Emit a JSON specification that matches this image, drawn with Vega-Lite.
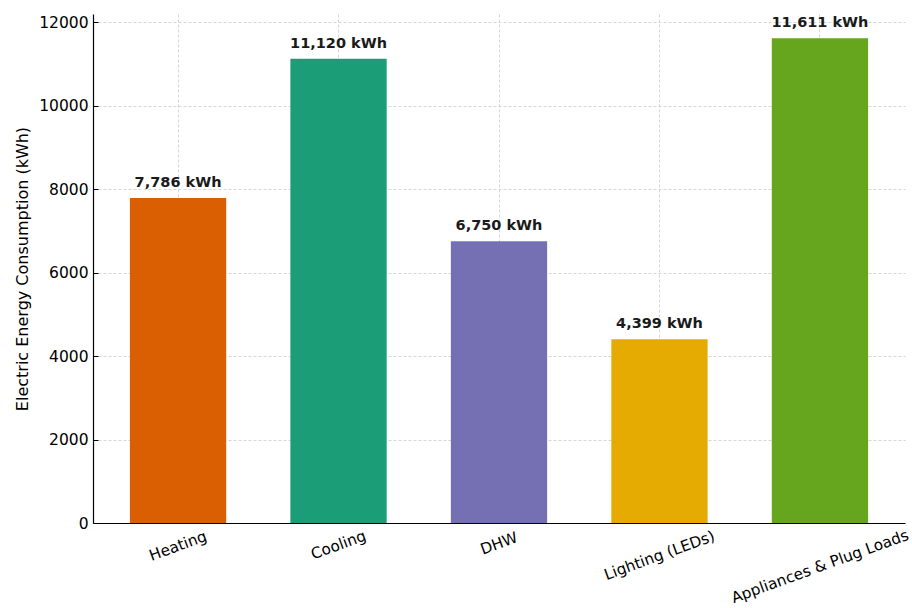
{
  "$schema": "https://vega.github.io/schema/vega-lite/v6.json",
  "width": 812,
  "height": 509,
  "autosize": {"type": "none"},
  "padding": {"left": 93, "top": 14, "right": 7, "bottom": 85},
  "background": "white",
  "config": {
    "font": "DejaVu Sans",
    "view": {"stroke": null},
    "axis": {
      "domainColor": "#000000",
      "domainWidth": 1.2,
      "tickColor": "#000000",
      "tickWidth": 1,
      "labelColor": "#000000",
      "titleColor": "#000000",
      "gridColor": "#cccccc",
      "gridDash": [3, 2],
      "gridWidth": 0.8,
      "zindex": 1
    }
  },
  "data": {
    "values": [
      {"category": "Heating", "kwh": 7786, "label": "7,786 kWh"},
      {"category": "Cooling", "kwh": 11120, "label": "11,120 kWh"},
      {"category": "DHW", "kwh": 6750, "label": "6,750 kWh"},
      {"category": "Lighting (LEDs)", "kwh": 4399, "label": "4,399 kWh"},
      {"category": "Appliances & Plug Loads", "kwh": 11611, "label": "11,611 kWh"}
    ]
  },
  "encoding": {
    "x": {
      "field": "category",
      "type": "nominal",
      "sort": null,
      "scale": {"paddingInner": 0.4, "paddingOuter": 0.23},
      "axis": {
        "title": null,
        "grid": true,
        "bandPosition": 0.5,
        "labelAngle": -20,
        "labelAlign": "center",
        "labelBaseline": "middle",
        "labelFontSize": 15.3,
        "labelPadding": {
          "condition": [
            {"test": "datum.value === 'Heating'", "value": 27.5},
            {"test": "datum.value === 'Cooling'", "value": 26.5},
            {"test": "datum.value === 'DHW'", "value": 25},
            {"test": "datum.value === 'Lighting (LEDs)'", "value": 37}
          ],
          "value": 48
        },
        "tickSize": -5,
        "labelLimit": 400
      }
    },
    "y": {
      "field": "kwh",
      "type": "quantitative",
      "scale": {"domain": [0, 12192], "nice": false, "zero": true},
      "axis": {
        "title": "Electric Energy Consumption (kWh)",
        "titleFontSize": 16,
        "titleFontWeight": "normal",
        "titlePadding": 8,
        "values": [0, 2000, 4000, 6000, 8000, 10000, 12000],
        "format": "d",
        "labelFontSize": 15.5,
        "tickSize": -5,
        "labelPadding": 10,
        "grid": true
      }
    }
  },
  "layer": [
    {
      "mark": {"type": "bar"},
      "encoding": {
        "color": {
          "field": "category",
          "type": "nominal",
          "sort": null,
          "legend": null,
          "scale": {
            "domain": ["Heating", "Cooling", "DHW", "Lighting (LEDs)", "Appliances & Plug Loads"],
            "range": ["#D95F02", "#1B9E77", "#7570B3", "#E6AB02", "#66A61E"]
          }
        }
      }
    },
    {
      "mark": {"type": "text", "fontWeight": "bold", "fontSize": 14.5, "baseline": "alphabetic", "dy": -11, "color": "#1a1a1a"},
      "encoding": {"text": {"field": "label"}}
    }
  ]
}
